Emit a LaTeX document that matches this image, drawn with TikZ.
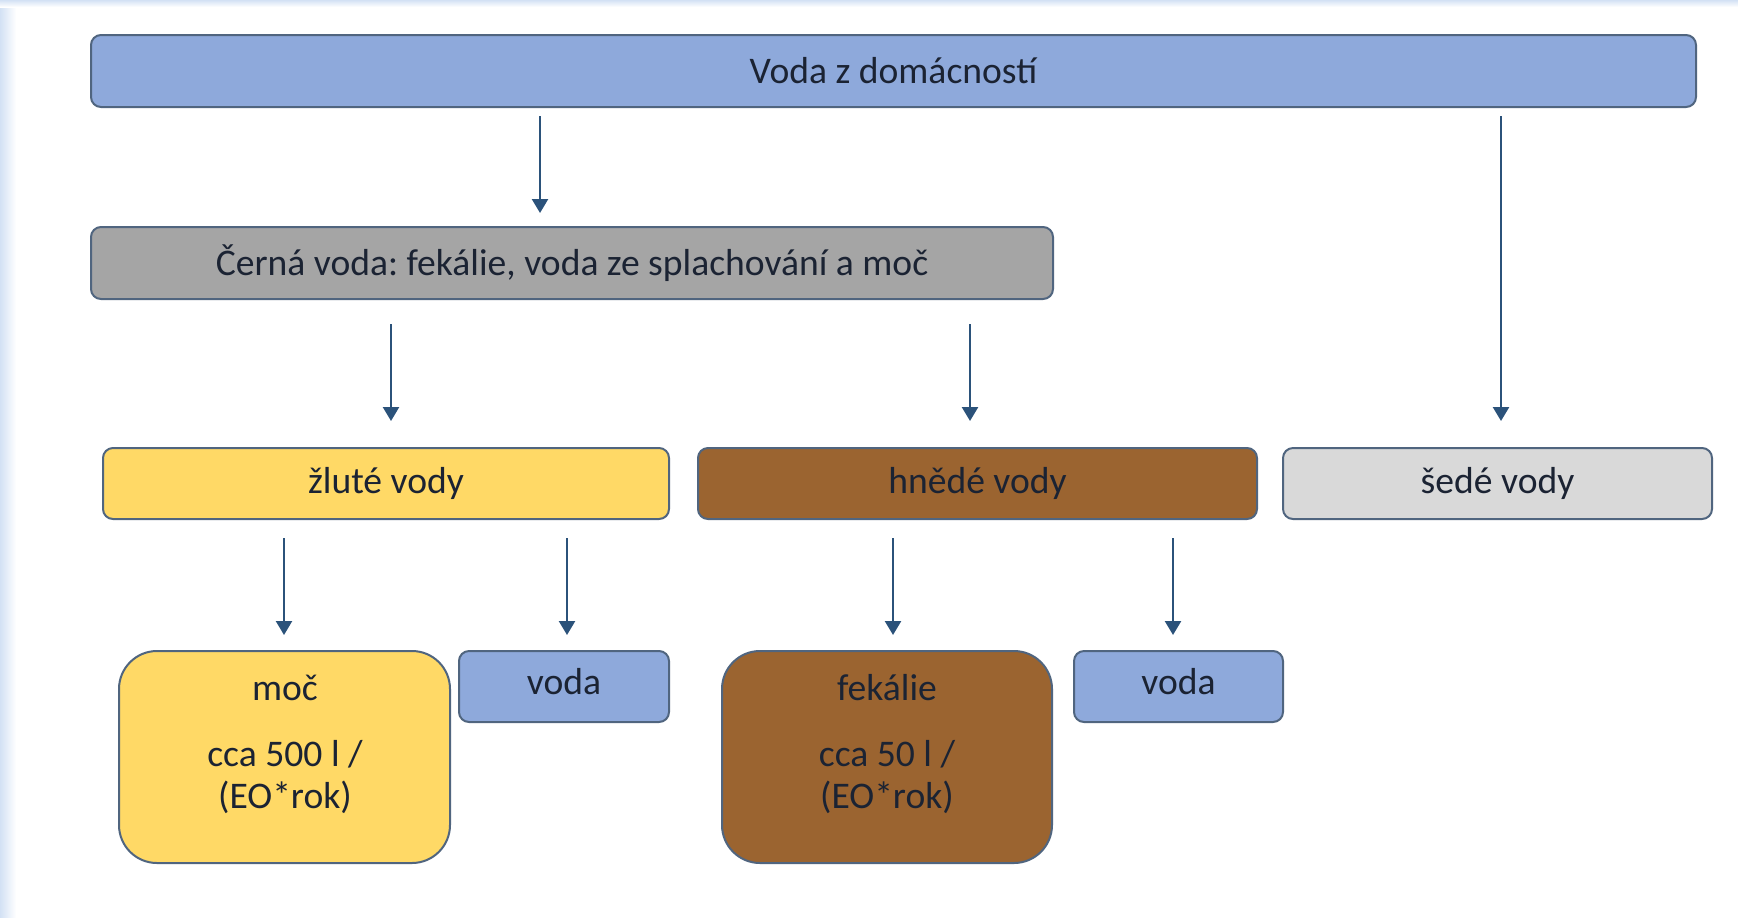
\documentclass[tikz,border=0pt]{standalone}
\usepackage{fontspec}
\setmainfont{Carlito}
\frenchspacing
\usetikzlibrary{arrows.meta}
\definecolor{bluefill}{HTML}{8EA9DB}
\definecolor{grayfill}{HTML}{A5A5A5}
\definecolor{yellowfill}{HTML}{FFD966}
\definecolor{brownfill}{HTML}{9B6430}
\definecolor{lightfill}{HTML}{D9D9D9}
\definecolor{edge}{HTML}{50657F}
\definecolor{arrowc}{HTML}{2B527A}
\definecolor{txt}{HTML}{1B2333}
\definecolor{bgblue}{HTML}{D3E1F4}
\tikzset{
  box/.style={draw=edge, line width=1pt, rounded corners=5pt, inner sep=0pt,
    text=txt, font=\fontsize{18.8}{21}\selectfont\frenchspacing, align=center},
  bigbox/.style={box, rounded corners=19pt},
  lbl/.style={text=txt, font=\fontsize{18.8}{21}\selectfont, align=center, inner sep=0pt},
  arr/.style={draw=arrowc, line width=1.2pt, -{Triangle[width=8pt,length=7pt]}}
}
\begin{document}
\begin{tikzpicture}[x=0.5pt,y=-0.5pt]
\useasboundingbox (0,0) rectangle (1738,917);
% background edges
\fill[white] (0,0) rectangle (1738,917);
\shade[left color=bgblue, right color=white] (0,0) rectangle (16,917);
\shade[top color=bgblue, bottom color=white] (0,0) rectangle (1738,7);

% boxes
\node[box, fill=bluefill, minimum width=802.5pt, minimum height=36pt] (top) at (893.5,71) {Voda z domácností};
\node[box, fill=grayfill, minimum width=481pt, minimum height=36pt] (cerna) at (572,263) {Černá voda: fekálie, voda ze splachování a moč};
\node[box, fill=yellowfill, minimum width=283pt, minimum height=35.5pt] (zlute) at (386,483.5) {žluté vody};
\node[box, fill=brownfill, minimum width=279.5pt, minimum height=35.5pt] (hnede) at (977.5,483.5) {hnědé vody};
\node[box, fill=lightfill, minimum width=214.5pt, minimum height=35.5pt] (sede) at (1497.5,483.5) {šedé vody};
\node[bigbox, fill=yellowfill, minimum width=165.5pt, minimum height=106pt] (moc) at (284.5,757) {};
\node[lbl] (mocT) at (285,744) {moč\\[12pt]cca 500 l /\\(EO*rok)};
\node[box, fill=bluefill, minimum width=105pt, minimum height=35.5pt] (voda1) at (564,686.5) {};
\node[lbl] (voda1T) at (564,682) {voda};
\node[bigbox, fill=brownfill, minimum width=165pt, minimum height=106pt] (fek) at (887,757) {};
\node[lbl] (fekT) at (887,744) {fekálie\\[12pt]cca 50 l /\\(EO*rok)};
\node[box, fill=bluefill, minimum width=104.5pt, minimum height=35.5pt] (voda2) at (1178.5,686.5) {};
\node[lbl] (voda2T) at (1178.5,682) {voda};

% arrow end points
\coordinate (a1s) at (540,116);  \coordinate (a1e) at (540,213);
\coordinate (a2s) at (1501,116); \coordinate (a2e) at (1501,421);
\coordinate (a3s) at (391,324);  \coordinate (a3e) at (391,421);
\coordinate (a4s) at (970,324);  \coordinate (a4e) at (970,421);
\coordinate (a5s) at (284,538);  \coordinate (a5e) at (284,635);
\coordinate (a6s) at (567,538);  \coordinate (a6e) at (567,635);
\coordinate (a7s) at (893,538);  \coordinate (a7e) at (893,635);
\coordinate (a8s) at (1173,538); \coordinate (a8e) at (1173,635);

\foreach \i in {1,...,8} { \draw[arr] (a\i s) -- (a\i e); }
\end{tikzpicture}
\end{document}
